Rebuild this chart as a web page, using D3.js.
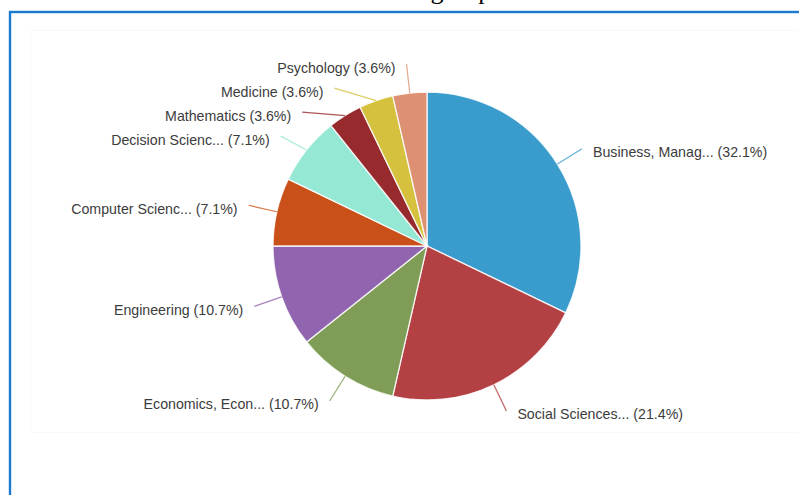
<!DOCTYPE html>
<html>
<head>
<meta charset="utf-8">
<script src="https://cdn.jsdelivr.net/npm/d3@7"></script>
<style>
  html, body { margin: 0; padding: 0; background: #fff; overflow: hidden; }
  svg { display: block; }
</style>
</head>
<body>
<svg id="chart" width="799" height="495"></svg>
<script>
// Documents per subject area
const categories = [
  "Business, Manag...",
  "Social Sciences...",
  "Economics, Econ...",
  "Engineering",
  "Computer Scienc...",
  "Decision Scienc...",
  "Mathematics",
  "Medicine",
  "Psychology"
];
const counts = [9, 6, 3, 3, 2, 2, 1, 1, 1];
const sliceColors = [
  "#3a9bcd", "#b34043", "#7f9d56", "#9064ae", "#c95119",
  "#94e8d4", "#962a2c", "#d6c13e", "#de9172"
];
const titleText = "Research area group";

const W = 799, H = 495;
const svg = d3.select("#chart");

// page title (mostly above the visible area)
svg.append("text")
  .attr("x", 279)
  .attr("y", -1)
  .attr("font-family", "'Liberation Serif', 'Times New Roman', serif")
  .attr("font-size", 26)
  .attr("fill", "#000")
  .text(titleText);

// outer panel frame
svg.append("rect")
  .attr("x", 10).attr("y", 12)
  .attr("width", W + 20).attr("height", H + 20)
  .attr("fill", "none")
  .attr("stroke", "#1c7bd0")
  .attr("stroke-width", 2.4);

// faint chart container outline
svg.append("rect")
  .attr("x", 30.5).attr("y", 30.5)
  .attr("width", W).attr("height", 402)
  .attr("fill", "none")
  .attr("stroke", "#f9f9f9")
  .attr("stroke-width", 1);

const cx = 427, cy = 246, radius = 154, labelR = 183, spacing = 24;
const total = d3.sum(counts);
const fmt = d3.format(".1f");

const data = categories.map((c, i) => ({ name: c, value: counts[i], color: sliceColors[i] }));
const pie = d3.pie().sort(null).value(d => d.value);
const arcs = pie(data);
const arc = d3.arc().innerRadius(0).outerRadius(radius);

const g = svg.append("g").attr("transform", `translate(${cx},${cy})`);

g.selectAll("path.slice")
  .data(arcs)
  .enter().append("path")
  .attr("class", "slice")
  .attr("d", arc)
  .attr("fill", d => d.data.color)
  .attr("stroke", "#fff")
  .attr("stroke-opacity", 0.85)
  .attr("stroke-width", 1.3);

// label layout: place on an outer circle, push overlapping labels apart vertically
const labels = arcs.map(d => {
  const a = (d.startAngle + d.endAngle) / 2;
  return {
    d, a,
    side: Math.sin(a) >= 0 ? 1 : -1,
    x: labelR * Math.sin(a),
    y: -labelR * Math.cos(a),
    ex: radius * Math.sin(a),
    ey: -radius * Math.cos(a)
  };
});
[1, -1].forEach(side => {
  const grp = labels.filter(l => l.side === side).sort((p, q) => p.y - q.y);
  for (let i = 1; i < grp.length; i++) {
    if (grp[i].y < grp[i - 1].y + spacing) grp[i].y = grp[i - 1].y + spacing;
  }
  grp.forEach(l => {
    const dy = Math.max(-labelR, Math.min(labelR, l.y));
    l.x = side * Math.sqrt(labelR * labelR - dy * dy);
  });
});

g.selectAll("line.tick")
  .data(labels)
  .enter().append("line")
  .attr("class", "tick")
  .attr("x1", l => l.ex).attr("y1", l => l.ey)
  .attr("x2", l => l.x).attr("y2", l => l.y)
  .attr("stroke", l => l.d.data.color)
  .attr("stroke-opacity", 0.8)
  .attr("stroke-width", 1.2);

g.selectAll("text.lbl")
  .data(labels)
  .enter().append("text")
  .attr("class", "lbl")
  .attr("x", l => l.x + l.side * 11)
  .attr("y", l => l.y + 3.5)
  .attr("dominant-baseline", "central")
  .attr("text-anchor", l => l.side > 0 ? "start" : "end")
  .attr("font-family", "'Liberation Sans', Arial, sans-serif")
  .attr("font-size", 14.2)
  .attr("fill", "#3c3c3c")
  .text(l => `${l.d.data.name} (${fmt(l.d.data.value / total * 100)}%)`);
</script>
</body>
</html>
